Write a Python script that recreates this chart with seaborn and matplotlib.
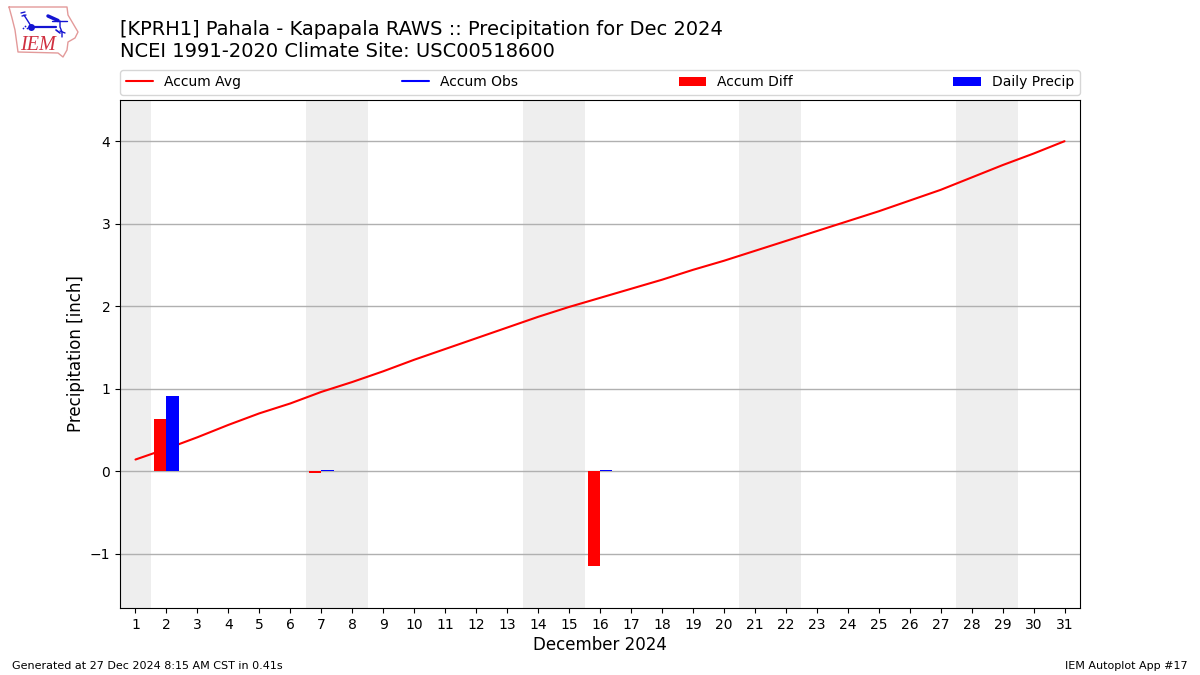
#!/usr/bin/env python

import matplotlib

matplotlib.use("Agg")
import matplotlib.pyplot as plt
import pandas as pd
import seaborn as sns

days = list(range(1, 32))
accum_avg = [0.14, 0.27, 0.41, 0.56, 0.70, 0.82, 0.96, 1.08, 1.21, 1.35, 1.48,
             1.61, 1.74, 1.87, 1.99, 2.10, 2.21, 2.32, 2.44, 2.55, 2.67, 2.79,
             2.91, 3.03, 3.15, 3.28, 3.41, 3.56, 3.71, 3.85, 4.00]
accum_diff = [0, 0.63, 0, 0, 0, 0, -0.02, 0, 0, 0, 0, 0, 0, 0, 0, -1.15,
              0, 0, 0, 0, 0, 0, 0, 0, 0, 0, 0, 0, 0, 0, 0]
daily_precip = [0, 0.91, 0, 0, 0, 0, 0.01, 0, 0, 0, 0, 0, 0, 0, 0, 0.01,
                0, 0, 0, 0, 0, 0, 0, 0, 0, 0, 0, 0, 0, 0, 0]
weekends = [(0.5, 1.5), (6.5, 8.5), (13.5, 15.5), (20.5, 22.5), (27.5, 29.5)]

# Iowa shaped outline of the logo, in figure pixels.
iowa_x = [9, 67, 68, 78, 75, 68, 67, 63, 58, 18, 15, 12, 9]
iowa_y = [7, 7, 15, 32, 38, 42, 50, 57, 53, 52, 30, 18, 7]

sns.set_style(
    "white",
    {"text.color": "k", "axes.labelcolor": "k", "xtick.color": "k", "ytick.color": "k"},
)
plt.rcParams["font.family"] = ["DejaVu Sans"]

bars = pd.DataFrame(
    {
        "day": days + days,
        "value": accum_diff + daily_precip,
        "series": ["Accum Diff"] * 31 + ["Daily Precip"] * 31,
    }
)

fig = plt.figure(figsize=(12, 6.75), dpi=100)
ax = fig.add_axes([0.1, 0.0993, 0.8, 0.7526])

for start, end in weekends:
    ax.axvspan(start, end, color="#eeeeee", lw=0, zorder=1)

sns.lineplot(x=days, y=accum_avg, color="r", lw=1.5, ax=ax, label="Accum Avg", zorder=2)
ax.plot([], [], color="b", lw=1.5, label="Accum Obs")

sns.barplot(
    data=bars,
    x="day",
    y="value",
    hue="series",
    palette=["r", "b"],
    native_scale=True,
    width=0.8,
    gap=0,
    saturation=1,
    linewidth=0,
    edgecolor="none",
    ax=ax,
    zorder=3,
)

ax.grid(axis="y", color="#b0b0b0", lw=1)
ax.set_axisbelow("line")
ax.set_xticks(days)
ax.set_xticklabels([str(d) for d in days])
ax.set_xlim(0.5, 31.5)
ax.set_ylim(-1.66, 4.5)
ax.set_yticks([-1, 0, 1, 2, 3, 4])
ax.set_yticklabels(["\u22121", "0", "1", "2", "3", "4"])
ax.tick_params(axis="both", length=3.5, width=0.8, labelsize=10, color="k", bottom=True, left=True)
for spine in ax.spines.values():
    spine.set_visible(True)
    spine.set_color("k")
    spine.set_linewidth(0.8)
ax.set_xlabel("December 2024", fontsize=12, labelpad=3)
ax.set_ylabel("Precipitation [inch]", fontsize=12, labelpad=3.5)

handles, labels = ax.get_legend_handles_labels()
ax.legend(
    handles,
    labels,
    loc="lower left",
    bbox_to_anchor=(0, 1.01, 1, 0.05),
    mode="expand",
    ncol=4,
    borderaxespad=0,
    fontsize=10,
    frameon=True,
)

fig.text(0.1, 0.9405, "[KPRH1] Pahala - Kapapala RAWS :: Precipitation for Dec 2024\n"
         "NCEI 1991-2020 Climate Site: USC00518600",
         fontsize=14, va="center", ha="left", linespacing=1.2)
fig.text(0.01, 0.0085, "Generated at 27 Dec 2024 8:15 AM CST in 0.41s", fontsize=8)
fig.text(0.99, 0.0085, "IEM Autoplot App #17", fontsize=8, ha="right")

# Logo, drawn on an overlay in pixel coordinates.
logo = fig.add_axes([0, 0, 1, 1], facecolor="none")
logo.set_xlim(0, 1200)
logo.set_ylim(675, 0)
logo.axis("off")
blue = "#1414d2"
logo.plot(iowa_x, iowa_y, color="#e39a9a", lw=1)
logo.plot([31, 56], [26.5, 26.5], color=blue, lw=1.6)
logo.plot([24, 31], [15, 26], color=blue, lw=1)
logo.plot([21, 25], [13, 12], color=blue, lw=1)
logo.plot([22, 26], [16, 15], color=blue, lw=1)
logo.plot([31], [26.5], "o", color=blue, ms=5, mew=0)
logo.plot([23, 25, 27], [28, 26, 28], ".", color=blue, ms=2.5, mew=0)
logo.plot([48, 58], [16, 20.5], color=blue, lw=2.5)
logo.plot([52, 67], [21, 21], color=blue, lw=1)
logo.plot([60, 60, 62, 62], [21, 27, 32, 37], color=blue, lw=1)
logo.plot([56, 60], [30, 33], color=blue, lw=1.2)
logo.plot([60, 65], [31, 33], color=blue, lw=1)
logo.text(20.5, 45.5, "IEM", color="#d03040", fontsize=14.5, family="Liberation Serif",
          style="italic", ha="left", va="center")

fig.savefig("out.png", dpi=100)
